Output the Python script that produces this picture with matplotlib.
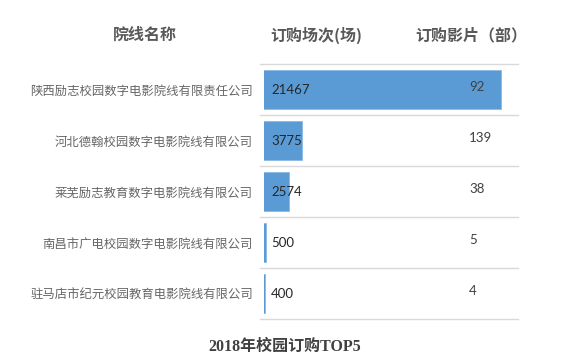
import matplotlib.pyplot as plt
from matplotlib.transforms import blended_transform_factory

# data
CINEMAS = [
    "陕西励志校园数字电影院线有限责任公司",
    "河北德翰校园数字电影院线有限公司",
    "莱芜励志教育数字电影院线有限公司",
    "南昌市广电校园数字电影院线有限公司",
    "驻马店市纪元校园教育电影院线有限公司",
]
SESSIONS = [21467, 3775, 2574, 500, 400]
FILMS = [92, 139, 38, 5, 4]
HEADERS = ["院线名称", "订购场次(场)", "订购影片（部）"]
TITLE = "2018年校园订购TOP5"

BAR_COLOR = "#5B9BD5"
GRID_COLOR = "#D9D9D9"
LABEL_COLOR = "#595959"

plt.rcParams["font.family"] = ["Noto Sans CJK SC", "DejaVu Sans"]

fig = plt.figure(figsize=(5.76, 3.57), dpi=100)
ax = fig.add_axes([0.4583, 0.1064, 0.4410, 0.7143])

ypos = list(range(len(CINEMAS)))
ax.barh(ypos, SESSIONS, height=0.75, color=BAR_COLOR,
        edgecolor="#8DB8E2", linewidth=0.6)
ax.set_xlim(344, 22980)
ax.set_ylim(len(CINEMAS) - 0.5, -0.5)

# row separators (extend slightly left of the bars)
for i in range(len(CINEMAS) + 1):
    ax.axhline(i - 0.5, xmin=-0.016, xmax=1.0, color=GRID_COLOR,
               linewidth=1.0, clip_on=False)

ax.set_yticks(ypos)
ax.set_yticklabels(CINEMAS, fontsize=8.9, color="#666666")
ax.tick_params(axis="y", length=0, pad=8)
ax.set_xticks([])
for s in ax.spines.values():
    s.set_visible(False)

trans = blended_transform_factory(ax.transAxes, ax.transData)
for y, v, f in zip(ypos, SESSIONS, FILMS):
    ax.text(0.028, y, str(v), transform=trans, ha="left", va="center",
            fontsize=9.5, color="#262626", family=["Lato", "DejaVu Sans"])
    ax.text(0.807, y - 0.05, str(f), transform=trans, ha="left", va="center",
            fontsize=9.5, color="#404040", family=["Lato", "DejaVu Sans"])

for x, h in zip([0.251, 0.549, 0.818], HEADERS):
    fig.text(x, 0.902, h, ha="center", va="center", fontsize=11.5,
             fontweight="bold", color=LABEL_COLOR)

fig.text(0.494, 0.028, TITLE, ha="center", va="center", fontsize=11.5,
         fontweight="bold", color="#404040",
         family=["Liberation Serif", "Noto Sans CJK SC"])

fig.savefig("out.png", dpi=100)
